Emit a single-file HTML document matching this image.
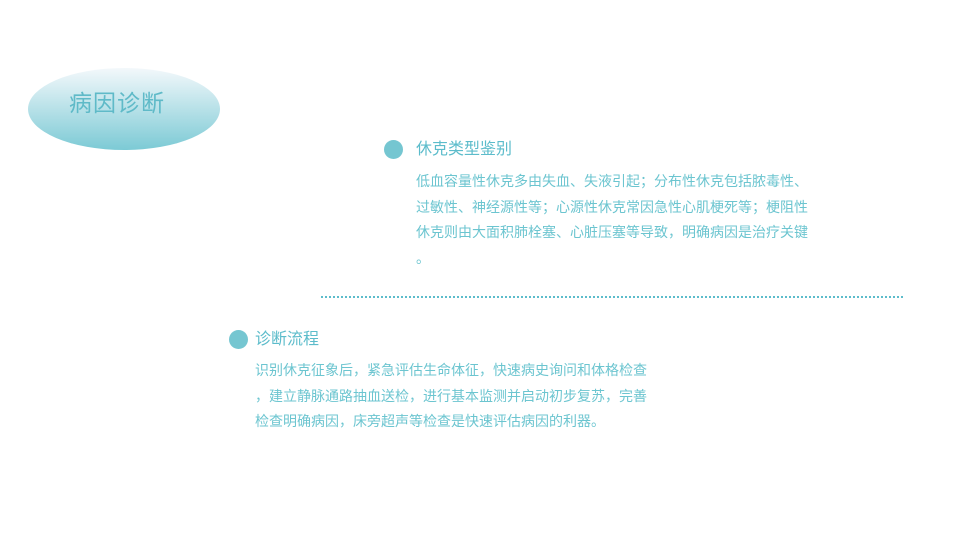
<!DOCTYPE html>
<html><head><meta charset="utf-8"><style>
body{margin:0;width:960px;height:540px;background:#fff;position:relative;overflow:hidden;font-family:"Liberation Sans","Noto Sans CJK SC",sans-serif;}
.ell{position:absolute;left:28px;top:68px;width:192px;height:82px;border-radius:50%;background:linear-gradient(#f3f8fb,#7ccad5);}
.ttl{position:absolute;left:28px;top:88px;width:178px;text-align:center;font-size:23px;color:#5fbac8;line-height:30px;letter-spacing:1px;}
.dot{position:absolute;width:19px;height:19px;border-radius:50%;background:#75c6d1;}
.h{position:absolute;font-size:16px;color:#5cbccb;line-height:20px;white-space:nowrap;}
.p{position:absolute;font-size:14px;color:#6cc5d0;line-height:25.7px;white-space:nowrap;}
.line{position:absolute;left:321px;top:296px;width:582px;border-top:2px dotted #5cbccb;}
</style></head><body>
<div class="ell"></div><div class="ttl">病因诊断</div>
<div class="dot" style="left:384px;top:140px"></div>
<div class="h" style="left:416px;top:140px">休克类型鉴别</div>
<div class="p" style="left:416px;top:169px">低血容量性休克多由失血、失液引起；分布性休克包括脓毒性、<br>过敏性、神经源性等；心源性休克常因急性心肌梗死等；梗阻性<br>休克则由大面积肺栓塞、心脏压塞等导致，明确病因是治疗关键<br>。</div>
<div class="line"></div>
<div class="dot" style="left:229px;top:330px"></div>
<div class="h" style="left:255px;top:330px">诊断流程</div>
<div class="p" style="left:255px;top:358px">识别休克征象后，紧急评估生命体征，快速病史询问和体格检查<br>，建立静脉通路抽血送检，进行基本监测并启动初步复苏，完善<br>检查明确病因，床旁超声等检查是快速评估病因的利器。</div>
</body></html>
